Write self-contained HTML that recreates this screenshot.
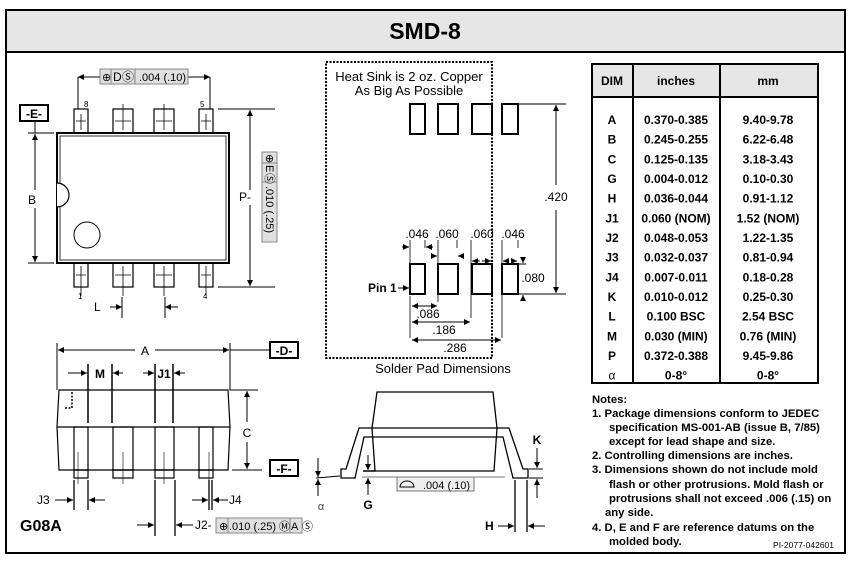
<!DOCTYPE html>
<html><head><meta charset="utf-8"><style>
body{margin:0;background:#fff}
svg{display:block;font-family:"Liberation Sans",Arial,sans-serif}
</style></head><body>
<svg width="850" height="567" viewBox="0 0 850 567" xmlns="http://www.w3.org/2000/svg">
<defs>
<marker id="a" viewBox="0 0 10 10" refX="10" refY="5" markerWidth="10" markerHeight="6" orient="auto-start-reverse" markerUnits="userSpaceOnUse"><path d="M0,0L10,5L0,10z" fill="#000"/></marker>
</defs>
<rect x="0" y="0" width="850" height="567" fill="#fff"/>
<rect x="6" y="10" width="839" height="543" fill="#fff" stroke="#000" stroke-width="2"/>
<rect x="7" y="11" width="837" height="41" fill="#e6e6e6"/>
<line x1="6" y1="52" x2="845" y2="52" stroke="#000" stroke-width="2"/>
<text x="425" y="39" font-size="23" font-weight="bold" text-anchor="middle">SMD-8</text>

<g stroke="#000" fill="none" stroke-width="1">
<!-- TOP VIEW -->
<rect x="57" y="133" width="172" height="130" stroke-width="2"/>
<rect x="60" y="136" width="166" height="124" stroke-width="0.8"/>
<path d="M57,183 A12,12 0 0 1 57,207" fill="#fff" stroke-width="1.2"/>
<circle cx="87" cy="235" r="13"/>
<g stroke-width="1.2">
<rect x="74" y="109" width="14" height="24"/><rect x="113" y="109" width="20" height="24"/><rect x="154" y="109" width="20" height="24"/><rect x="199" y="109" width="14" height="24"/>
<rect x="74" y="263" width="14" height="24"/><rect x="113" y="263" width="20" height="24"/><rect x="154" y="263" width="20" height="24"/><rect x="199" y="263" width="14" height="24"/>
</g>
<g stroke-width="0.8">
<path d="M81,114v16M76,121h10M123,104v26M115,121h16M164,104v26M156,121h16M206,114v16M201,121h10"/>
<path d="M81,266v30M76,275h10M123,266v30M115,275h16M164,266v30M156,275h16M206,266v30M201,275h10"/>
</g>
<line x1="78" y1="77" x2="100" y2="77" marker-start="url(#a)"/><line x1="188" y1="77" x2="210" y2="77" marker-end="url(#a)"/>
<path d="M78,77v32M210,77v32"/>
<rect x="100" y="69" width="88" height="15" fill="#e0e0e0" stroke="#888"/>
<path d="M111,69v15M135,69v15" stroke="#888"/>
<rect x="20" y="105" width="28" height="16" stroke-width="2"/>
<path d="M35,121v12M28,133h26M28,263h26"/>
<line x1="35" y1="190" x2="35" y2="134" marker-end="url(#a)"/><line x1="35" y1="208" x2="35" y2="262" marker-end="url(#a)"/>
<path d="M218,109h57M218,287h57"/>
<line x1="250" y1="190" x2="250" y2="110" marker-end="url(#a)"/><line x1="250" y1="205" x2="250" y2="286" marker-end="url(#a)"/>
<rect x="262" y="152" width="15" height="90" fill="#e0e0e0" stroke="#888"/>
<path d="M262,163h15M262,182h15" stroke="#888"/>
<path d="M122,297v21M165,297v21"/>
<line x1="110" y1="307" x2="122" y2="307" marker-end="url(#a)"/><line x1="178" y1="307" x2="165" y2="307" marker-end="url(#a)"/>

<!-- FRONT VIEW -->
<path d="M57,343v47M230,343v47h28"/>
<line x1="135" y1="350" x2="58" y2="350" marker-end="url(#a)"/><line x1="155" y1="350" x2="229" y2="350" marker-end="url(#a)"/>
<line x1="230" y1="350" x2="270" y2="350"/>
<rect x="270" y="342" width="28" height="16" stroke-width="2"/>
<path d="M59,390H228L230,427L228,470H59L57,427Z" stroke-width="1.2"/>
<line x1="57" y1="427" x2="230" y2="427" stroke-width="1.2"/>
<path d="M72,392v16h-7" stroke-dasharray="2,1.5" stroke-width="1.5"/>
<g stroke-width="1.2">
<rect x="74" y="427" width="14" height="43"/><rect x="113" y="427" width="20" height="43"/><rect x="155" y="427" width="19" height="43"/><rect x="199" y="427" width="14" height="43"/>
<rect x="74" y="470" width="14" height="8"/><rect x="113" y="470" width="20" height="8"/><rect x="155" y="470" width="19" height="8"/><rect x="199" y="470" width="14" height="8"/>
</g>
<path d="M78,452v32M123,452v32M164,452v32M209,452v32" stroke-width="0.6"/>
<path d="M88,364v59M112,364v59M155,364v59M173,364v59" stroke-width="1.5"/>
<line x1="68" y1="373" x2="87" y2="373" marker-end="url(#a)"/><line x1="123" y1="373" x2="113" y2="373" marker-end="url(#a)"/>
<line x1="143" y1="373" x2="154" y2="373" marker-end="url(#a)"/><line x1="185" y1="373" x2="174" y2="373" marker-end="url(#a)"/>
<line x1="247" y1="422" x2="247" y2="391" marker-end="url(#a)"/><line x1="247" y1="442" x2="247" y2="469" marker-end="url(#a)"/>
<path d="M232,470h30"/>
<rect x="270" y="460" width="28" height="16" stroke-width="2"/>
<path d="M74,480v30M88,480v30M209,480v30M212,480v30M155,480v56M175,480v56" stroke-width="1.3"/>
<line x1="55" y1="500" x2="73" y2="500" marker-end="url(#a)"/><line x1="105" y1="500" x2="89" y2="500" marker-end="url(#a)"/>
<line x1="192" y1="500" x2="208" y2="500" marker-end="url(#a)"/><line x1="228" y1="500" x2="213" y2="500" marker-end="url(#a)"/>
<line x1="137" y1="525" x2="154" y2="525" marker-end="url(#a)"/><line x1="193" y1="525" x2="176" y2="525" marker-end="url(#a)"/>
<rect x="216" y="518" width="86" height="15" fill="#e0e0e0" stroke="#888"/>
<path d="M228,518v15M290,518v15" stroke="#888"/>

<!-- SIDE VIEW -->
<path d="M341,469L346,469L359,428L509,428L523,469L528,469L528,478L513,478L503,437L364,437L355,478L341,478Z" stroke-width="1.3"/>
<path d="M377,392H493L497,428L494,471H375L372,428Z" stroke-width="1.3" fill="none"/>
<path d="M362,477H505" stroke="#777"/>
<rect x="397" y="477" width="77" height="14" fill="#f0f0f0" stroke="#777"/>
<path d="M400,487a7,6 0 0 1 14,0z" stroke-width="1"/>
<path d="M363,471h12" stroke-width="1.5"/>
<line x1="368" y1="455" x2="368" y2="470" marker-end="url(#a)"/><line x1="368" y1="495" x2="368" y2="478" marker-end="url(#a)"/>
<line x1="318" y1="458" x2="318" y2="477" marker-end="url(#a)"/><line x1="318" y1="496" x2="318" y2="479" marker-end="url(#a)"/>
<path d="M316,478L340,476"/>
<path d="M529,469h14M529,478h14"/>
<line x1="537" y1="448" x2="537" y2="468" marker-end="url(#a)"/><line x1="537" y1="498" x2="537" y2="479" marker-end="url(#a)"/>
<path d="M515,480v52M527,480v52" stroke-width="1.3"/>
<line x1="498" y1="526" x2="514" y2="526" marker-end="url(#a)"/><line x1="545" y1="526" x2="528" y2="526" marker-end="url(#a)"/>

<!-- SOLDER PAD -->
<rect x="326" y="62" width="166" height="296" stroke-dasharray="2,1.5" stroke-width="2"/>
<g stroke-width="2">
<rect x="410" y="104" width="15" height="30"/><rect x="438" y="104" width="20" height="30"/><rect x="472" y="104" width="20" height="30"/><rect x="502" y="104" width="16" height="30"/>
<rect x="410" y="264" width="15" height="30"/><rect x="438" y="264" width="20" height="30"/><rect x="472" y="264" width="20" height="30"/><rect x="502" y="264" width="16" height="30"/>
</g>
<path d="M518,104h48M518,294h48M518,264h8"/>
<line x1="556" y1="185" x2="556" y2="105" marker-end="url(#a)"/><line x1="556" y1="210" x2="556" y2="293" marker-end="url(#a)"/>
<path d="M410,240v48M425,240v8M438,240v62M457,240v8M471,240v78M502,240v98M518,240v8M410,296v42" stroke-width="0.8"/>
<line x1="402" y1="247" x2="409" y2="247" marker-end="url(#a)"/><line x1="433" y1="247" x2="426" y2="247" marker-end="url(#a)"/>
<line x1="431" y1="256" x2="437" y2="256" marker-end="url(#a)"/><line x1="464" y1="256" x2="458" y2="256" marker-end="url(#a)"/>
<line x1="480" y1="261" x2="472" y2="261" marker-end="url(#a)"/><line x1="482" y1="261" x2="491" y2="261" marker-end="url(#a)"/>
<line x1="508" y1="261" x2="503" y2="261" marker-end="url(#a)"/><line x1="511" y1="261" x2="517" y2="261" marker-end="url(#a)"/>
<line x1="523" y1="258" x2="523" y2="263" marker-end="url(#a)"/><line x1="523" y1="300" x2="523" y2="295" marker-end="url(#a)"/>
<line x1="398" y1="288" x2="409" y2="288" marker-end="url(#a)"/>
<line x1="412" y1="306" x2="437" y2="306" marker-end="url(#a)" marker-start="url(#a)"/>
<line x1="412" y1="322" x2="470" y2="322" marker-end="url(#a)" marker-start="url(#a)"/>
<line x1="412" y1="340" x2="501" y2="340" marker-end="url(#a)" marker-start="url(#a)"/>

<!-- TABLE -->
<rect x="592" y="64" width="226" height="319" stroke-width="2"/>
<rect x="593" y="65" width="224" height="32" fill="#e6e6e6" stroke="none"/>
<path d="M592,97H818" stroke-width="2"/>
<path d="M633,64V383M720,64V383" stroke-width="2"/>
</g>

<g font-size="12" fill="#000">
<text x="102" y="81" font-size="11">⊕</text>
<text x="113" y="81" font-size="12">D</text><text x="122" y="81" font-size="12">Ⓢ</text>
<text x="139" y="81" font-size="11">.004 (.10)</text>
<text x="84" y="107" font-size="8">8</text><text x="200" y="107" font-size="8">5</text>
<text x="78" y="299" font-size="8">1</text><text x="203" y="299" font-size="8">4</text>
<text x="34" y="118" font-size="12" font-weight="bold" text-anchor="middle">-E-</text>
<text x="28" y="204" font-size="12">B</text>
<text x="239" y="201" font-size="12">P-</text>
<g transform="translate(266,154) rotate(90)" font-size="11"><text x="0" y="0">⊕</text><text x="11" y="0">E</text><text x="19" y="0">Ⓢ</text><text x="32" y="0">.010 (.25)</text></g>
<text x="94" y="311" font-size="12">L</text>
<text x="145" y="355" font-size="12" text-anchor="middle">A</text>
<text x="284" y="355" font-weight="bold" text-anchor="middle">-D-</text>
<text x="100" y="378" font-weight="bold" text-anchor="middle">M</text>
<text x="164" y="378" font-weight="bold" text-anchor="middle">J1</text>
<text x="247" y="437" text-anchor="middle">C</text>
<text x="258" y="473">-</text>
<text x="284" y="473" font-weight="bold" text-anchor="middle">-F-</text>
<text x="37" y="504">J3</text>
<text x="229" y="504">J4</text>
<text x="195" y="529">J2-</text>
<text x="219" y="530" font-size="11">⊕</text>
<text x="229" y="530" font-size="11">.010 (.25)</text><text x="279" y="530" font-size="11">Ⓜ</text><text x="291" y="530" font-size="11">A</text><text x="302" y="530" font-size="11">Ⓢ</text>
<text x="20" y="531" font-size="16" font-weight="bold">G08A</text>
<text x="423" y="489" font-size="11">.004 (.10)</text>
<text x="368" y="509" font-weight="bold" text-anchor="middle">G</text>
<text x="321" y="510" font-size="11" text-anchor="middle" fill="#444">α</text>
<text x="537" y="444" font-weight="bold" text-anchor="middle">K</text>
<text x="485" y="530" font-weight="bold">H</text>
<text x="409" y="81" font-size="13" text-anchor="middle">Heat Sink is 2 oz. Copper</text>
<text x="409" y="95" font-size="13" text-anchor="middle">As Big As Possible</text>
<rect x="543" y="189" width="26" height="14" fill="#fff"/>
<text x="556" y="201" text-anchor="middle">.420</text>
<text x="417" y="238" text-anchor="middle">.046</text><text x="447" y="238" text-anchor="middle">.060</text>
<text x="482" y="238" text-anchor="middle">.060</text><text x="513" y="238" text-anchor="middle">.046</text>
<text x="533" y="282" text-anchor="middle">.080</text>
<text x="368" y="292" font-weight="bold">Pin 1</text>
<text x="428" y="318" text-anchor="middle">.086</text>
<text x="444" y="334" text-anchor="middle">.186</text>
<text x="455" y="352" text-anchor="middle">.286</text>
<text x="443" y="373" font-size="13" text-anchor="middle">Solder Pad Dimensions</text>
</g>

<g font-size="12" font-weight="bold" text-anchor="middle">
<text x="612" y="85">DIM</text><text x="676" y="85">inches</text><text x="768" y="85">mm</text>
<text x="612" y="124">A</text><text x="676" y="124">0.370-0.385</text><text x="768" y="124">9.40-9.78</text>
<text x="612" y="143.6">B</text><text x="676" y="143.6">0.245-0.255</text><text x="768" y="143.6">6.22-6.48</text>
<text x="612" y="163.3">C</text><text x="676" y="163.3">0.125-0.135</text><text x="768" y="163.3">3.18-3.43</text>
<text x="612" y="183">G</text><text x="676" y="183">0.004-0.012</text><text x="768" y="183">0.10-0.30</text>
<text x="612" y="202.6">H</text><text x="676" y="202.6">0.036-0.044</text><text x="768" y="202.6">0.91-1.12</text>
<text x="612" y="222.3">J1</text><text x="676" y="222.3">0.060 (NOM)</text><text x="768" y="222.3">1.52 (NOM)</text>
<text x="612" y="242">J2</text><text x="676" y="242">0.048-0.053</text><text x="768" y="242">1.22-1.35</text>
<text x="612" y="261.6">J3</text><text x="676" y="261.6">0.032-0.037</text><text x="768" y="261.6">0.81-0.94</text>
<text x="612" y="281.3">J4</text><text x="676" y="281.3">0.007-0.011</text><text x="768" y="281.3">0.18-0.28</text>
<text x="612" y="301">K</text><text x="676" y="301">0.010-0.012</text><text x="768" y="301">0.25-0.30</text>
<text x="612" y="320.6">L</text><text x="676" y="320.6">0.100 BSC</text><text x="768" y="320.6">2.54 BSC</text>
<text x="612" y="340.3">M</text><text x="676" y="340.3">0.030 (MIN)</text><text x="768" y="340.3">0.76 (MIN)</text>
<text x="612" y="360">P</text><text x="676" y="360">0.372-0.388</text><text x="768" y="360">9.45-9.86</text>
<text x="612" y="379.6" font-weight="normal">α</text><text x="676" y="379.6">0-8°</text><text x="768" y="379.6">0-8°</text>
</g>

<g font-size="11.3" font-weight="bold">
<text x="592" y="403">Notes:</text>
<text x="592" y="417">1.  Package dimensions conform to JEDEC</text>
<text x="609" y="431">specification MS-001-AB (issue B, 7/85)</text>
<text x="609" y="445">except for lead shape and size.</text>
<text x="592" y="459">2.  Controlling dimensions are inches.</text>
<text x="592" y="473">3.  Dimensions shown do not include mold</text>
<text x="609" y="488">flash or other protrusions.  Mold flash or</text>
<text x="609" y="502">protrusions shall not exceed .006 (.15) on</text>
<text x="605" y="516">any side.</text>
<text x="592" y="531">4.  D, E and F are reference datums on the</text>
<text x="609" y="545">molded body.</text>
</g>
<text x="834" y="548" font-size="8.5" text-anchor="end">PI-2077-042601</text>
</svg>
</body></html>
